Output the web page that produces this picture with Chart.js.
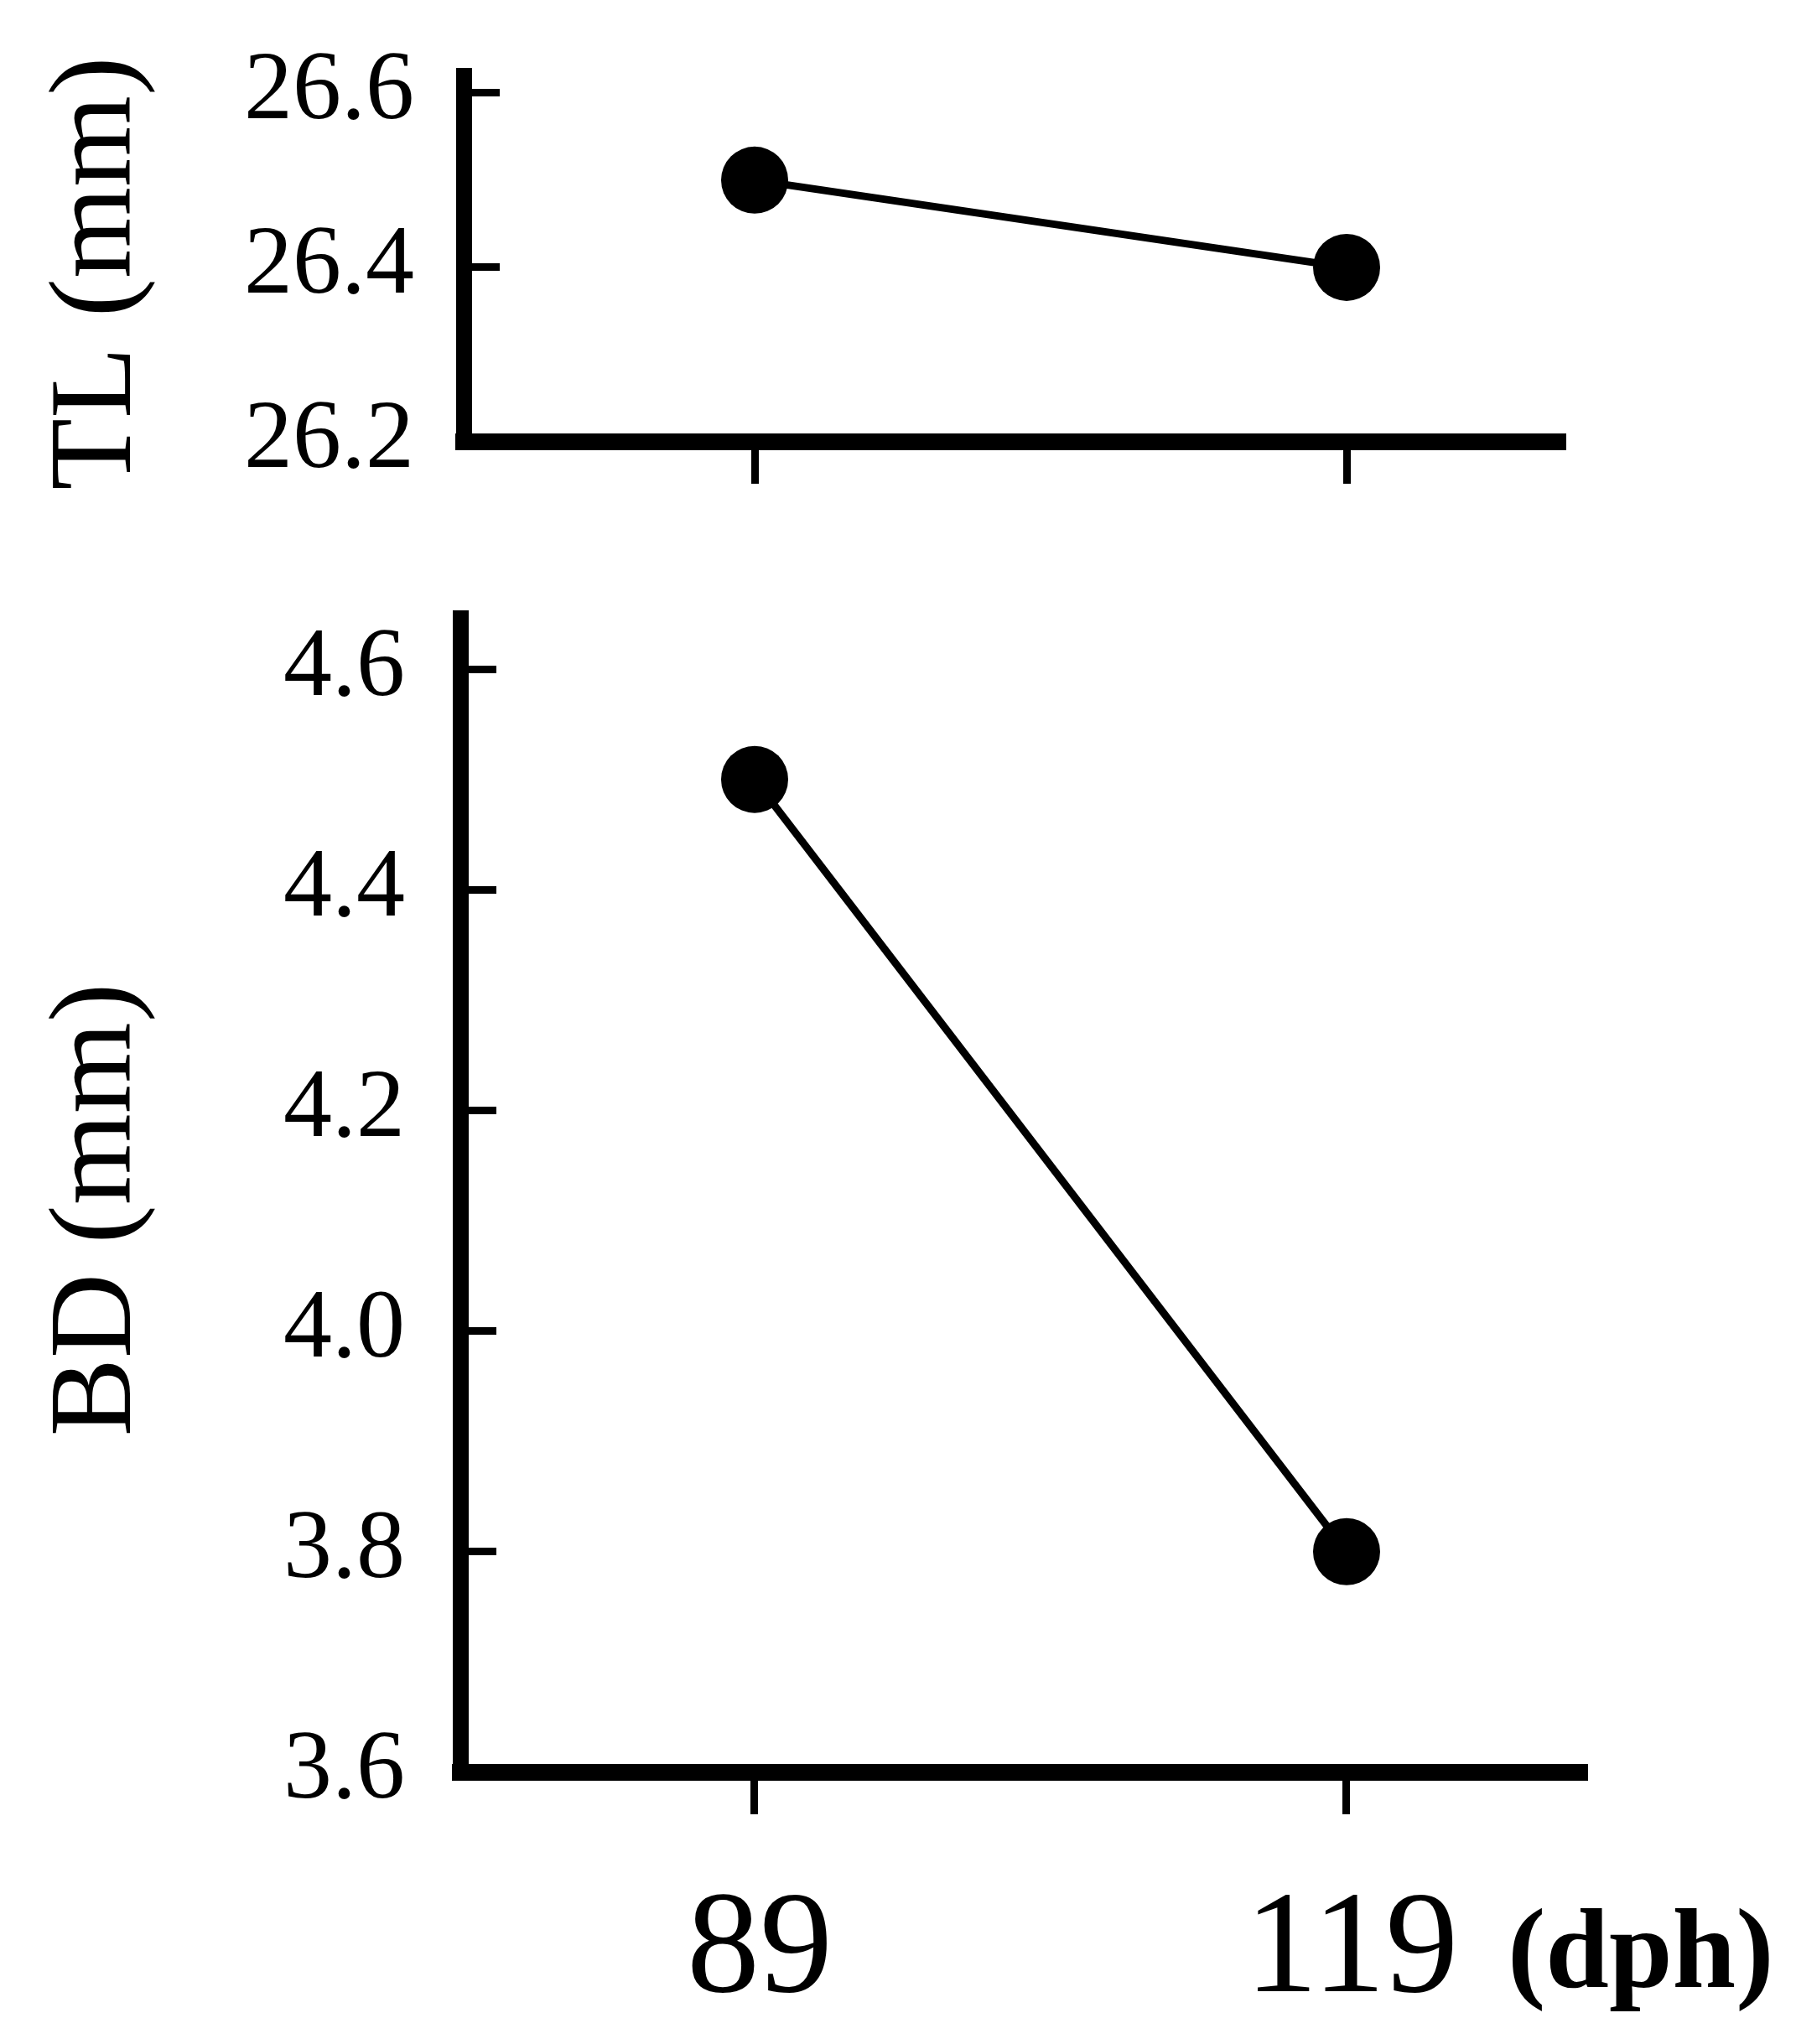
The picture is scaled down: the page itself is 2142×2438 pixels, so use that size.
<!DOCTYPE html>
<html>
<head>
<meta charset="utf-8">
<script src="https://cdn.jsdelivr.net/npm/chart.js@4/dist/chart.umd.min.js"></script>
<style>
  body { margin: 0; background: #fff; }
  canvas { position: absolute; left: 0; }
  #tlChart { top: 0; }
  #bdChart { top: 640px; }
</style>
</head>
<body>
<canvas id="tlChart" width="2142" height="640"></canvas>
<canvas id="bdChart" width="2142" height="1798"></canvas>
<script>
// days post hatch
const xValues = [89, 119];
const xTickLabels = ["89", "119"];

// total length (mm)
const tlValues = [26.5, 26.4];
const tlTicks = [26.2, 26.4, 26.6];

// body depth (mm)
const bdValues = [4.5, 3.8];
const bdTicks = [3.6, 3.8, 4.0, 4.2, 4.4, 4.6];

const SERIF = "'Liberation Serif', 'Times New Roman', serif";
Chart.defaults.font.family = SERIF;
Chart.defaults.color = "#000";

const toPoints = (ys) => xValues.map((x, i) => ({ x: x, y: ys[i] }));

// labels may hang outside the plot, don't let them shrink it
const noLabelPadding = (scale) => {
  scale.paddingTop = 0;
  scale.paddingBottom = 0;
  scale.paddingLeft = 0;
  scale.paddingRight = 0;
};

// draws the "(dph)" unit next to the last x label
const unitLabel = {
  id: "unitLabel",
  afterDraw(chart, args, opts) {
    if (!opts.text) return;
    const ctx = chart.ctx;
    const xs = chart.scales.x;
    ctx.save();
    ctx.font = "bold 136px " + SERIF;
    ctx.fillStyle = "#000";
    ctx.textAlign = "left";
    ctx.textBaseline = "alphabetic";
    ctx.fillText(opts.text, xs.getPixelForValue(xValues[xValues.length - 1]) + opts.dx, opts.y);
    ctx.restore();
  }
};

function makeChart(id, values, yTicks, cfg) {
  const ctx = document.getElementById(id).getContext("2d");
  return new Chart(ctx, {
    type: "line",
    data: {
      datasets: [{
        data: toPoints(values),
        borderColor: "#000",
        borderWidth: 9,
        pointRadius: 40,
        pointHoverRadius: 40,
        pointBackgroundColor: "#000",
        pointBorderWidth: 0,
        tension: 0,
        fill: false
      }]
    },
    options: {
      responsive: false,
      devicePixelRatio: 1,
      animation: false,
      layout: {
        autoPadding: false,
        padding: { left: 0, right: cfg.padRight, top: cfg.padTop, bottom: 0 }
      },
      plugins: {
        legend: { display: false },
        tooltip: { enabled: false },
        unitLabel: cfg.unit || {}
      },
      scales: {
        x: {
          type: "linear",
          min: cfg.xMin,
          max: cfg.xMax,
          afterBuildTicks: (scale) => { scale.ticks = xValues.map(v => ({ value: v })); },
          afterFit: (scale) => { scale.height = cfg.xHeight; noLabelPadding(scale); },
          border: { display: true, color: "#000", width: 20 },
          grid: {
            drawOnChartArea: false,
            drawTicks: true,
            tickLength: 50,
            tickWidth: 9,
            tickColor: "#000"
          },
          ticks: {
            display: cfg.showX,
            autoSkip: false,
            maxRotation: 0,
            padding: 61,
            labelOffset: 6,
            font: { size: 174 },
            callback: (v) => xTickLabels[xValues.indexOf(v)]
          }
        },
        y: {
          min: cfg.yMin,
          max: cfg.yMax,
          afterBuildTicks: (scale) => { scale.ticks = yTicks.map(v => ({ value: v })); },
          afterFit: (scale) => { scale.width = cfg.yWidth; noLabelPadding(scale); },
          border: { display: true, color: "#000", width: 19 },
          grid: {
            drawOnChartArea: false,
            drawTicks: true,
            tickLength: -43,
            tickWidth: 9,
            tickColor: "#000"
          },
          ticks: {
            autoSkip: false,
            padding: cfg.yPad,
            font: { size: 116 },
            callback: (v) => v.toFixed(1)
          },
          title: {
            display: true,
            text: cfg.title,
            font: { size: 140 },
            padding: { top: 34, bottom: 0 }
          }
        }
      }
    },
    plugins: [unitLabel]
  });
}

makeChart("tlChart", tlValues, tlTicks, {
  title: "TL (mm) ",
  yMin: 26.2, yMax: 26.62,
  xMin: 74.255, xMax: 130.09,
  yWidth: 553, xHeight: 113,
  padRight: 275, padTop: 90,
  yPad: 102,
  showX: false
});

makeChart("bdChart", bdValues, bdTicks, {
  title: "BD (mm) ",
  yMin: 3.6, yMax: 4.6464,
  xMin: 74.085, xMax: 131.196,
  yWidth: 549, xHeight: 324,
  padRight: 249, padTop: 97,
  yPad: 109,
  showX: true,
  unit: { text: "(dph)", dx: 192, y: 1730 }
});
</script>
</body>
</html>
